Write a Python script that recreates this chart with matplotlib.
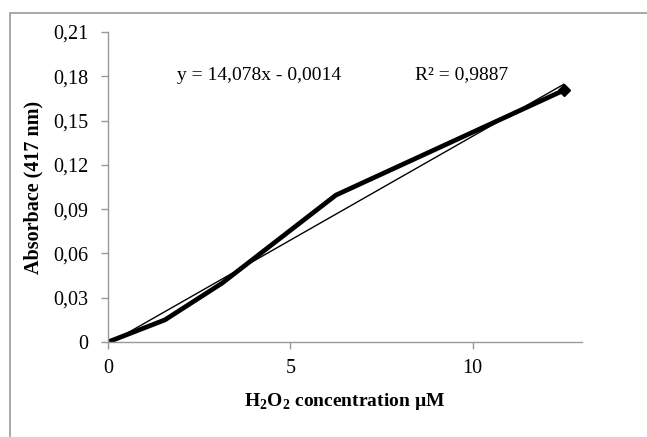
import matplotlib.pyplot as plt
from matplotlib.patches import Rectangle

# H2O2 standard curve data
conc = [0, 1.5625, 3.125, 6.25, 12.5]
absorb = [0, 0.015, 0.0398, 0.0995, 0.1705]
# linear trendline as reported (x in mM)
slope = 14.078
intercept = -0.0014
y_ticks = [0, 0.03, 0.06, 0.09, 0.12, 0.15, 0.18, 0.21]
y_labels = ['0', '0,03', '0,06', '0,09', '0,12', '0,15', '0,18', '0,21']
x_ticks = [0, 5, 10]

plt.rcParams['font.family'] = ['Liberation Serif', 'DejaVu Serif']
plt.rcParams['mathtext.fontset'] = 'custom'
plt.rcParams['mathtext.rm'] = 'Liberation Serif'
plt.rcParams['mathtext.bf'] = 'Liberation Serif:bold'

W, H = 647, 437
fig = plt.figure(figsize=(W / 100, H / 100), dpi=100)
ax = fig.add_axes([108 / W, 1 - 342 / H, 474 / W, 310 / H])

# outer chart border (only left and top visible)
fig.patches.append(Rectangle((10 / W, -0.5), 2, 1 - 13 / H + 0.5,
                             transform=fig.transFigure, fill=False,
                             edgecolor='#999999', linewidth=1.2))

ax.plot(conc, absorb, color='black', linewidth=3.4, solid_joinstyle='miter',
        marker='D', markersize=6, markevery=[4])
tx = [conc[0], conc[-1]]
ty = [slope * x / 1000 + intercept for x in tx]
ax.plot(tx, ty, color='black', linewidth=1.0)

ax.set_xlim(0, 13)
ax.set_ylim(0, 0.21)
ax.set_xticks(x_ticks)
ax.set_xticklabels([str(t) for t in x_ticks])
ax.set_yticks(y_ticks)
ax.set_yticklabels(y_labels)
ax.tick_params(labelsize=14.5, color='#999999', length=5, width=1)
ax.tick_params(axis='x', pad=7)
ax.tick_params(axis='y', pad=9)

for s in ['top', 'right']:
    ax.spines[s].set_visible(False)
for s in ['left', 'bottom']:
    ax.spines[s].set_color('#999999')
    ax.spines[s].set_linewidth(1)

fig.text(345 / W, 1 - 402 / H, r'H$_\mathbf{2}$O$_\mathbf{2}$ concentration µM',
         fontsize=14, fontweight='bold', ha='center', va='center')
fig.text(33 / W, 1 - 187 / H, 'Absorbace (417 nm)', fontsize=14.5,
         fontweight='bold', ha='center', va='center', rotation=90)

fig.text(177 / W, 1 - 75 / H, 'y = 14,078x - 0,0014', fontsize=14,
         va='center', ha='left')
fig.text(415 / W, 1 - 75 / H, 'R² = 0,9887', fontsize=14,
         va='center', ha='left')

fig.savefig('out.png', dpi=100)
